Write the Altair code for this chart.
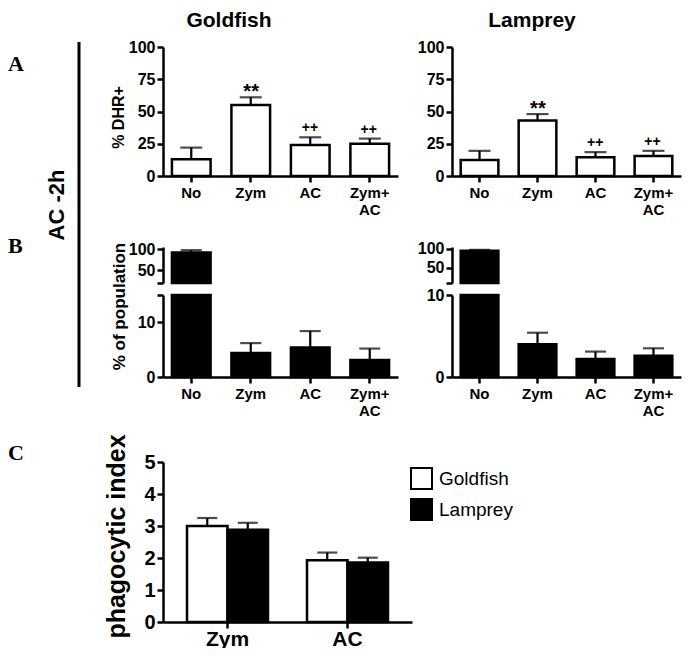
import altair as alt
import pandas as pd

# ---------------- data ----------------
cats = ["No", "Zym", "AC", "Zym+AC"]
dhr_gold = [13, 55, 24, 25]
dhr_gold_err = [9, 6, 6, 4]
dhr_lamp = [12.5, 43, 14.5, 15.5]
dhr_lamp_err = [7, 5, 4, 4]
sig_star = ["", "**", "", ""]
sig_plus = ["", "", "++", "++"]

pop_gold = [92, 4.4, 5.4, 3.1]
pop_gold_err = [5.5, 1.8, 3.0, 2.1]
pop_lamp = [95, 4.0, 2.2, 2.6]
pop_lamp_err = [2.5, 1.4, 0.9, 0.9]

phago_cats = ["Zym", "AC"]
species = ["Goldfish", "Lamprey"]
phago_gold = [3.0, 1.93]
phago_gold_err = [0.25, 0.24]
phago_lamp = [2.88, 1.86]
phago_lamp_err = [0.22, 0.15]

dhr_ticks = [0, 25, 50, 75, 100]
phago_ticks = [0, 1, 2, 3, 4, 5]

# ---------------- layout helpers ----------------
W, H = 675, 640
M = 8
F = "Liberation Sans"


def P(v):
    return v - M


def axis_style(**kw):
    d = dict(domainColor="black", domainWidth=2.5, tickColor="black", tickWidth=2.5,
             tickSize=6, labelColor="black", labelFont=F, labelFontWeight="bold",
             grid=False, titleFont=F, titleFontWeight="bold", titleColor="black",
             labelPadding=2)
    d.update(kw)
    return alt.Axis(**d)


MULTI = "datum.value == 'Zym+AC' ? ['Zym+', 'AC'] : datum.label"


def xaxis(ypage, size=15):
    return axis_style(orient="bottom", offset=P(ypage) - H, labelFontSize=size, labelAngle=0,
                      labelExpr=MULTI, labelLineHeight=size + 2, labelPadding=3, title=None)


def yaxis(xpage, values, size=16, title=None, tsize=16, tx=-45, typage=0, expr=None):
    kw = dict(orient="left", offset=-P(xpage), values=values, labelFontSize=size)
    if title:
        kw.update(title=title, titleFontSize=tsize, titleAngle=270, titleX=tx,
                  titleY=P(typage), titleAlign="center", titleBaseline="middle")
    else:
        kw["title"] = None
    if expr:
        kw["labelExpr"] = expr
    return axis_style(**kw)


layers = []


def bar_panel(vals, errs, xr, ydom, yr, xa, ya, fill, cap, clamp=False,
              bar_keep=None, err_keep=None, star=None, plus=None):
    df = pd.DataFrame({"cat": cats, "v": vals,
                       "top": [v + e for v, e in zip(vals, errs)]})
    if star is not None:
        df["s"] = star
        df["p"] = plus
    xs = alt.Scale(domain=cats, range=[P(xr[0]), P(xr[1])], paddingInner=0.35, paddingOuter=0.15)
    ys = alt.Scale(domain=ydom, range=[P(yr[0]), P(yr[1])], nice=False, zero=False, clamp=clamp)
    X = alt.X("cat:N", scale=xs, axis=xa, sort=cats)
    Xn = alt.X("cat:N", scale=xs, axis=None, sort=cats)
    dbar = df if bar_keep is None else df[bar_keep(df)]
    derr = df if err_keep is None else df[err_keep(df)]
    layers.append(alt.Chart(dbar).mark_bar(fill=fill, stroke="black", strokeWidth=2.5).encode(
        x=X, y=alt.Y("v:Q", scale=ys, axis=ya), y2=alt.datum(0)))
    layers.append(alt.Chart(derr).mark_rule(color="black", strokeWidth=2.2).encode(
        x=Xn, y=alt.Y("v:Q", scale=ys, axis=None), y2="top:Q"))
    layers.append(alt.Chart(derr).mark_tick(color="black", thickness=2.2, size=cap,
                                           orient="horizontal").encode(
        x=Xn, y=alt.Y("top:Q", scale=ys, axis=None)))
    if star is not None:
        layers.append(alt.Chart(df).mark_text(font=F, fontWeight="bold", fontSize=20,
                                              baseline="alphabetic", dy=1, color="black").encode(
            x=Xn, y=alt.Y("top:Q", scale=ys, axis=None), text="s:N"))
        layers.append(alt.Chart(df).mark_text(font=F, fontWeight="bold", fontSize=14,
                                              baseline="alphabetic", dy=-5, color="black").encode(
            x=Xn, y=alt.Y("top:Q", scale=ys, axis=None), text="p:N"))


# ---- Panel A ----
GX = (163, 398)
LX = (452, 681)
A_Y = (176, 47)
bar_panel(dhr_gold, dhr_gold_err, GX, [0, 100], A_Y, xaxis(A_Y[0]),
          yaxis(GX[0], dhr_ticks, title="% DHR+", tsize=16, tx=-45, typage=117),
          "white", 22, star=sig_star, plus=sig_plus)
bar_panel(dhr_lamp, dhr_lamp_err, LX, [0, 100], A_Y, xaxis(A_Y[0]),
          yaxis(LX[0], dhr_ticks), "white", 22, star=sig_star, plus=sig_plus)

# ---- Panel B (broken axis) ----
B_LOW = (377, 295)
B_UP = (283, 247)
# goldfish
bar_panel(pop_gold, pop_gold_err, GX, [0, 15], B_LOW, xaxis(B_LOW[0]),
          yaxis(GX[0], [0, 10, 15], title="% of population", tsize=17, tx=-44, typage=306,
                expr="datum.value > 12 ? '' : datum.label"),
          "black", 21, clamp=True, err_keep=lambda d: d["top"] <= 15)
bar_panel(pop_gold, pop_gold_err, GX, [19.4, 105], B_UP, None,
          yaxis(GX[0], [19.4, 50, 100], expr="datum.value < 40 ? '' : datum.label"),
          "black", 21, clamp=True, bar_keep=lambda d: d["v"] > 19.4,
          err_keep=lambda d: d["v"] > 19.4)
# lamprey
bar_panel(pop_lamp, pop_lamp_err, LX, [0, 10], B_LOW, xaxis(B_LOW[0]),
          yaxis(LX[0], [0, 10]), "black", 21, clamp=True,
          err_keep=lambda d: d["top"] <= 10)
bar_panel(pop_lamp, pop_lamp_err, LX, [10.5, 105], B_UP, None,
          yaxis(LX[0], [10.5, 50, 100], expr="datum.value < 40 ? '' : datum.label"),
          "black", 21, clamp=True, bar_keep=lambda d: d["v"] > 10.5,
          err_keep=lambda d: d["v"] > 10.5)

# ---- Panel C ----
C_X = (163, 412)
C_Y = (622, 462)
rows = []
for i, c in enumerate(phago_cats):
    rows.append({"cat": c, "sp": species[0], "v": phago_gold[i], "top": phago_gold[i] + phago_gold_err[i]})
    rows.append({"cat": c, "sp": species[1], "v": phago_lamp[i], "top": phago_lamp[i] + phago_lamp_err[i]})
dfc = pd.DataFrame(rows)
xsc = alt.Scale(domain=phago_cats, range=[P(C_X[0]), P(C_X[1])], paddingInner=0.325, paddingOuter=0.2)
ysc = alt.Scale(domain=[0, 5], range=[P(C_Y[0]), P(C_Y[1])], nice=False, zero=False)
xoc = alt.Scale(domain=species, paddingInner=0, paddingOuter=0)
xa_c = axis_style(orient="bottom", offset=P(C_Y[0]) - H, labelFontSize=21, labelAngle=0,
                  labelBaseline="alphabetic", labelPadding=17, title=None)
ya_c = yaxis(C_X[0], phago_ticks, size=20, title="phagocytic index", tsize=25, tx=-47, typage=536)
legend = alt.Legend(orient="none", legendX=P(410), legendY=P(467), title=None,
                    symbolType="square", symbolSize=441, symbolStrokeColor="black",
                    symbolStrokeWidth=2, labelFont=F, labelFontSize=19, labelColor="black",
                    labelOffset=6, rowPadding=2, padding=0)
layers.append(alt.Chart(dfc).mark_bar(stroke="black", strokeWidth=2.5).encode(
    x=alt.X("cat:N", scale=xsc, axis=xa_c, sort=phago_cats),
    xOffset=alt.XOffset("sp:N", scale=xoc, sort=species),
    y=alt.Y("v:Q", scale=ysc, axis=ya_c), y2=alt.datum(0),
    fill=alt.Fill("sp:N", scale=alt.Scale(domain=species, range=["white", "black"]), legend=legend)))
layers.append(alt.Chart(dfc).mark_rule(color="black", strokeWidth=2.2).encode(
    x=alt.X("cat:N", scale=xsc, axis=None, sort=phago_cats),
    xOffset=alt.XOffset("sp:N", scale=xoc, sort=species),
    y=alt.Y("v:Q", scale=ysc, axis=None), y2="top:Q"))
layers.append(alt.Chart(dfc).mark_tick(color="black", thickness=2.2, size=20, orient="horizontal").encode(
    x=alt.X("cat:N", scale=xsc, axis=None, sort=phago_cats),
    xOffset=alt.XOffset("sp:N", scale=xoc, sort=species),
    y=alt.Y("top:Q", scale=ysc, axis=None)))

# ---- decorations: titles, panel letters, bracket line ----
one = pd.DataFrame({"k": [0]})


def label(text, xpage, ypage, font=F, size=21, angle=0, align="center", baseline="alphabetic"):
    layers.append(alt.Chart(one).mark_text(text=text, font=font, fontSize=size, fontWeight="bold",
                                           angle=angle, align=align, baseline=baseline,
                                           color="black").encode(
        x=alt.value(P(xpage)), y=alt.value(P(ypage))))


label("Goldfish", 229, 27)
label("Lamprey", 532, 27)
label("A", 8, 71, font="Liberation Serif", size=22, align="left")
label("B", 8, 253, font="Liberation Serif", size=22, align="left")
label("C", 8, 460, font="Liberation Serif", size=22, align="left")
label("AC -2h", 57, 205, size=22, angle=270, baseline="middle")
layers.append(alt.Chart(one).mark_rule(color="black", strokeWidth=3).encode(
    x=alt.value(P(79)), y=alt.value(P(42)), y2=alt.value(P(387))))

chart = alt.layer(*layers).properties(
    width=W, height=H, autosize=alt.AutoSizeParams(type="none"), padding=0
).resolve_scale(
    x="independent", y="independent", xOffset="independent", fill="independent"
).resolve_axis(x="independent", y="independent").configure_view(strokeWidth=0)

chart.save("out.html", embed_options={"renderer": "svg", "actions": False})
